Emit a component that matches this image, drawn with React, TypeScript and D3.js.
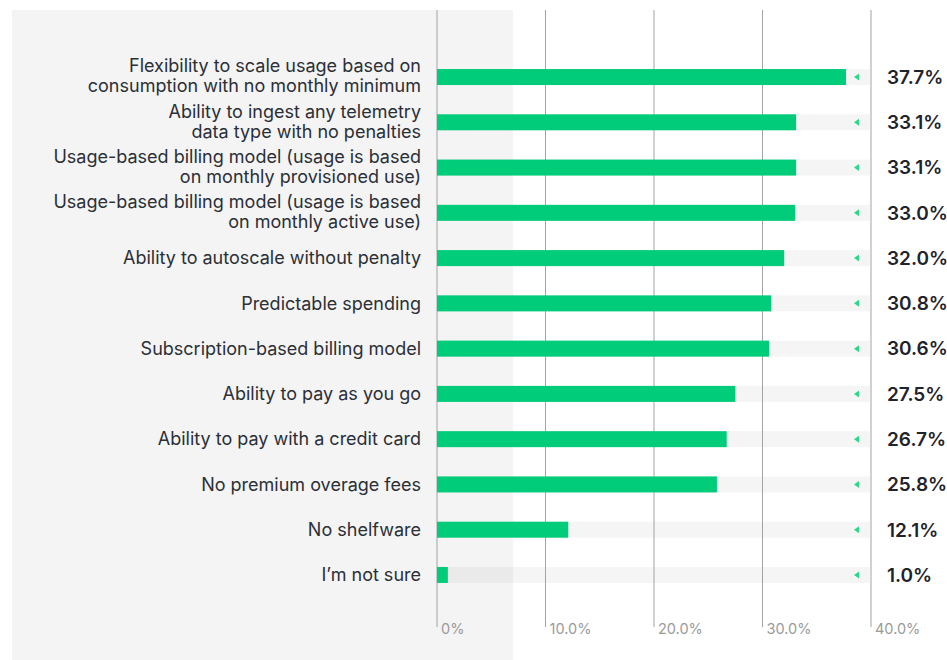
import React from 'react';
import * as d3 from 'd3';

const categories: string[][] = [
  ['Flexibility to scale usage based on', 'consumption with no monthly minimum'],
  ['Ability to ingest any telemetry', 'data type with no penalties'],
  ['Usage-based billing model (usage is based', 'on monthly provisioned use)'],
  ['Usage-based billing model (usage is based', 'on monthly active use)'],
  ['Ability to autoscale without penalty'],
  ['Predictable spending'],
  ['Subscription-based billing model'],
  ['Ability to pay as you go'],
  ['Ability to pay with a credit card'],
  ['No premium overage fees'],
  ['No shelfware'],
  ['I\u2019m not sure'],
];
const values = [37.7, 33.1, 33.1, 33.0, 32.0, 30.8, 30.6, 27.5, 26.7, 25.8, 12.1, 1.0];
const ticks = [0, 10, 20, 30, 40];
const tickLabels = ['0%', '10.0%', '20.0%', '30.0%', '40.0%'];

const W = 947;
const H = 660;
const FONT = 'Inter, "Noto Sans", sans-serif';

export default function App() {
  const x = d3.scaleLinear().domain([0, 40]).range([437, 871]);
  const y = d3.scaleBand<number>()
    .domain(d3.range(values.length))
    .range([54.4, 597.6])
    .paddingInner(0.64)
    .paddingOuter(0.32);
  const bh = 16;
  const lineH = 20;

  return (
    <svg width={W} height={H} style={{ position: 'absolute', left: 0, top: 0, fontFamily: FONT }}>
      <rect x={12} y={10} width={501} height={H - 10} fill="#f4f4f4" />

      {/* tracks */}
      {values.map((v, i) => {
        const cy = y(i)! + y.bandwidth() / 2;
        return (
          <rect key={'t' + i} x={x(0)} y={cy - bh / 2} width={x(40) - x(0) - 1}
            height={bh} fill="#000" fillOpacity={0.04} />
        );
      })}

      {/* grid */}
      {ticks.map((t, i) => (
        <g key={'g' + t}>
          <line x1={x(t)} x2={x(t)} y1={10} y2={627} stroke="#a3a3a3" strokeWidth={1} />
          <text x={x(t) + 4} y={634} fontSize={14.5} fill="#9a9a9a">{tickLabels[i]}</text>
        </g>
      ))}

      {/* bars */}
      {values.map((v, i) => {
        const cy = y(i)! + y.bandwidth() / 2;
        const tx = x(40) - 12;
        return (
          <g key={'b' + i}>
            <rect x={x(0)} y={cy - bh / 2} width={x(v) - x(0)} height={bh} fill="#00cc7a" />
            <path d={`M${tx - 5},${cy} L${tx},${cy - 3.5} L${tx},${cy + 3.5} Z`} fill="#2bd98a" />
            <text x={887} y={cy} dy="0.36em" fontSize={19} fontWeight={600} fill="#1f232b">
              {v.toFixed(1)}%
            </text>
          </g>
        );
      })}

      {/* category labels */}
      {categories.map((lines, i) => {
        const cy = y(i)! + y.bandwidth() / 2;
        const y0 = cy - ((lines.length - 1) * lineH) / 2 - (lines.length > 1 ? 1 : 0);
        return (
          <text key={'c' + i} x={421} textAnchor="end" fontSize={18} fill="#2b2f36">
            {lines.map((l, j) => (
              <tspan key={j} x={421} y={y0 + j * lineH} dy="0.35em">{l}</tspan>
            ))}
          </text>
        );
      })}
    </svg>
  );
}
